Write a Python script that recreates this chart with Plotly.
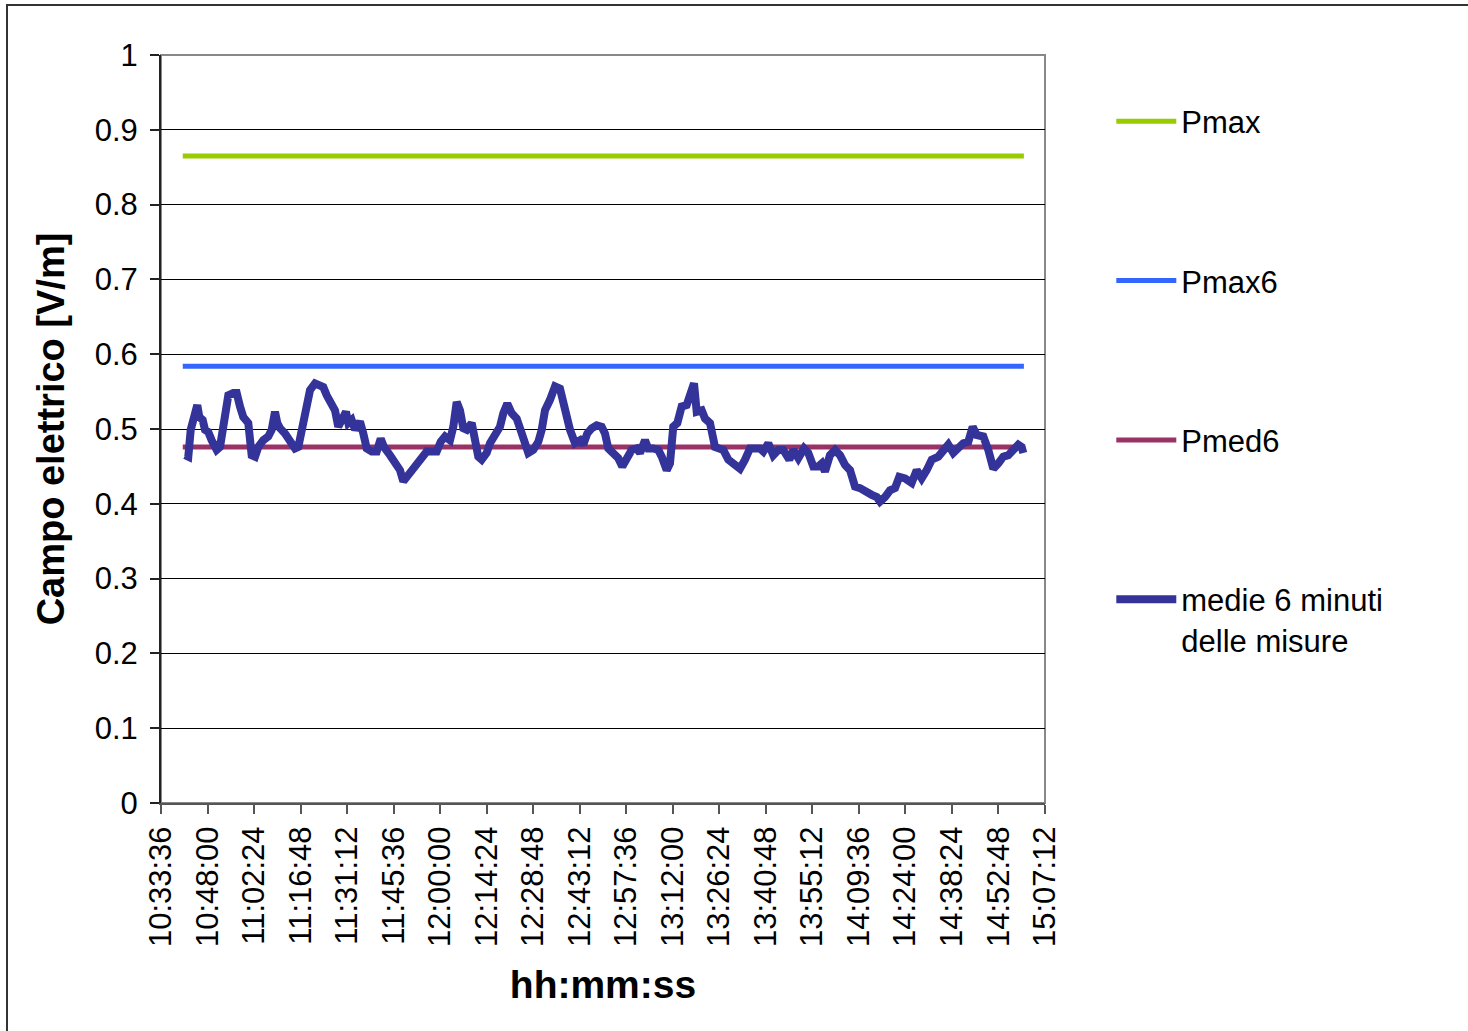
import plotly.graph_objects as go

# ---------------- data ----------------
times = [
    # segment 1
    "10:41:02", "10:42:03", "10:42:48", "10:43:49", "10:44:50", "10:45:27", "10:46:30", "10:47:13", "10:48:14", "10:49:17",
    "10:50:50", "10:51:52", "10:52:53", "10:53:43", "10:54:26", "10:55:59", "10:57:02", "10:58:03", "10:59:04", "11:00:37",
    "11:01:40", "11:02:42", "11:03:43", "11:05:16", "11:06:49", "11:07:52", "11:08:53", "11:09:36", "11:10:26", "11:11:59",
    "11:13:32", "11:15:04", "11:16:06", "11:17:09", "11:18:10", "11:19:43", "11:21:16",
    # segment 2
    "11:23:50", "11:24:53", "11:26:26", "11:27:27", "11:28:28", "11:29:32", "11:30:51", "11:31:34", "11:32:37", "11:33:39",
    "11:35:11", "11:36:13", "11:37:16", "11:38:49", "11:40:22", "11:41:36", "11:42:37", "11:44:29", "11:46:01", "11:47:34",
    "11:48:36", "11:49:39", "11:51:11", "11:52:44", "11:54:17", "11:55:50", "11:57:23", "11:58:56", "12:00:10", "12:01:30",
    "12:03:03", "12:04:04", "12:05:07",
    # segment 3
    "12:06:08", "12:07:10", "12:08:13", "12:09:46", "12:10:47", "12:11:48", "12:12:51", "12:14:24", "12:15:26", "12:16:58",
    "12:18:31", "12:19:33", "12:20:47", "12:22:09", "12:23:41", "12:24:43", "12:26:15", "12:27:17", "12:28:50", "12:30:23",
    "12:31:26", "12:32:27", "12:34:00", "12:35:33", "12:37:05", "12:38:07", "12:39:10", "12:40:11", "12:41:44", "12:43:17",
    "12:44:18", "12:45:32", "12:46:54", "12:48:27",
    # segment 4
    "12:50:00", "12:51:01", "12:52:02", "12:53:35", "12:55:08", "12:56:22", "12:57:44", "12:59:17", "13:00:50", "13:01:51",
    "13:03:24", "13:04:25", "13:05:58", "13:07:31", "13:08:34", "13:10:07", "13:11:08", "13:12:09", "13:13:24", "13:14:45",
    "13:16:18", "13:17:19", "13:18:34", "13:19:24", "13:20:57", "13:21:58", "13:23:31", "13:25:04", "13:26:37", "13:27:38",
    "13:29:11", "13:30:44", "13:32:17",
    # segment 5
    "13:32:48", "13:34:21", "13:35:54", "13:37:27", "13:38:59", "13:40:01", "13:41:34", "13:43:06", "13:44:39", "13:46:12",
    "13:48:04", "13:49:18", "13:50:51", "13:52:37", "13:53:56", "13:55:29", "13:57:02", "13:58:05", "13:59:06", "14:00:39",
    "14:02:12", "14:03:45", "14:05:18", "14:06:51", "14:08:24", "14:09:56", "14:11:29", "14:13:34", "14:15:07",
    # segment 6
    "14:16:08", "14:17:41", "14:19:14", "14:20:47", "14:22:06", "14:23:52", "14:25:56", "14:27:29", "14:29:02", "14:30:35",
    "14:32:08", "14:34:11", "14:35:43", "14:37:16", "14:38:49", "14:40:22", "14:41:55", "14:43:28", "14:44:49", "14:46:04",
    "14:48:06", "14:49:39", "14:51:12", "14:52:45", "14:54:18", "14:55:50", "14:57:23", "14:58:56", "14:59:59", "15:00:29",
]

medie = [
    0.465, 0.463, 0.499, 0.512, 0.532, 0.516, 0.512, 0.499, 0.496, 0.485,
    0.472, 0.476, 0.503, 0.525, 0.545, 0.548, 0.548, 0.530, 0.516, 0.508,
    0.465, 0.463, 0.476, 0.485, 0.490, 0.499, 0.523, 0.508, 0.501, 0.494,
    0.485, 0.474, 0.476, 0.499, 0.530, 0.552, 0.561,
    0.556, 0.545, 0.534, 0.525, 0.503, 0.512, 0.523, 0.508, 0.512, 0.499,
    0.510, 0.494, 0.474, 0.470, 0.470, 0.487, 0.476, 0.465, 0.456, 0.445,
    0.430, 0.436, 0.445, 0.454, 0.465, 0.470, 0.470, 0.470, 0.483, 0.490,
    0.485, 0.503, 0.536,
    0.525, 0.501, 0.499, 0.508, 0.490, 0.463, 0.459, 0.468, 0.481, 0.490,
    0.503, 0.521, 0.534, 0.521, 0.514, 0.501, 0.485, 0.468, 0.472, 0.483,
    0.499, 0.525, 0.539, 0.557, 0.554, 0.534, 0.512, 0.499, 0.481, 0.485,
    0.479, 0.494, 0.501, 0.505,
    0.503, 0.494, 0.474, 0.468, 0.461, 0.450, 0.463, 0.472, 0.474, 0.468,
    0.485, 0.474, 0.474, 0.472, 0.463, 0.445, 0.454, 0.503, 0.508, 0.530,
    0.532, 0.545, 0.561, 0.523, 0.525, 0.514, 0.508, 0.476, 0.474, 0.472,
    0.459, 0.454, 0.452,
    0.447, 0.459, 0.474, 0.474, 0.474, 0.470, 0.481, 0.465, 0.472, 0.472,
    0.459, 0.472, 0.461, 0.474, 0.468, 0.450, 0.450, 0.454, 0.443, 0.465,
    0.472, 0.465, 0.452, 0.445, 0.423, 0.421, 0.416, 0.412, 0.409,
    0.403, 0.409, 0.418, 0.421, 0.436, 0.434, 0.428, 0.445, 0.434, 0.445,
    0.459, 0.463, 0.470, 0.479, 0.468, 0.476, 0.481, 0.483, 0.503, 0.492,
    0.490, 0.472, 0.447, 0.454, 0.463, 0.465, 0.474, 0.479, 0.476, 0.468,
]

ref_times = ["10:40:20", "15:00:40"]
pmax = 0.865
pmax6 = 0.584
pmed6 = 0.476

tick_labels = [
    "10:33:36", "10:48:00", "11:02:24", "11:16:48", "11:31:12", "11:45:36", "12:00:00",
    "12:14:24", "12:28:48", "12:43:12", "12:57:36", "13:12:00", "13:26:24", "13:40:48",
    "13:55:12", "14:09:36", "14:24:00", "14:38:24", "14:52:48", "15:07:12",
]

DAY = "2000-01-01 "


def d(t):
    return DAY + t


FONT = "Liberation Sans, Arial, sans-serif"

fig = go.Figure()

ref_series = [
    ("Pmax", pmax, "#99CC00", 1),
    ("Pmax6", pmax6, "#3366FF", 2),
    ("Pmed6", pmed6, "#993366", 3),
]
for name, val, col, rank in ref_series:
    fig.add_trace(go.Scatter(
        x=[d(t) for t in ref_times], y=[val, val], mode="lines", name=name,
        line=dict(color=col, width=5), legendrank=rank, legendgroup=name,
    ))

fig.add_trace(go.Scatter(
    x=[d(t) for t in times], y=medie, mode="lines",
    name="medie 6 minuti<br>delle misure",
    line=dict(color="#333399", width=8), legendrank=4, legendgroup="medie",
))

# plot-area border (top/right grey) and outer chart frame
fig.add_shape(type="rect", xref="paper", yref="paper", x0=0, x1=1, y0=0, y1=1,
              line=dict(color="#888888", width=2), layer="below")
fig.add_shape(type="rect", xref="paper", yref="paper",
              x0=-0.1742, x1=1.6, y0=-0.5, y1=1.0668,
              line=dict(color="#333333", width=2))

fig.update_layout(
    width=1468, height=1031,
    margin=dict(l=161, r=423, t=55, b=228, pad=0),
    paper_bgcolor="white", plot_bgcolor="white",
    font=dict(family=FONT, color="black", size=31),
    showlegend=True,
    legend=dict(
        x=1.075, xanchor="left", y=0.947, yanchor="top",
        font=dict(size=31, family=FONT, color="black"),
        tracegroupgap=116, valign="top", itemwidth=60,
        bgcolor="rgba(0,0,0,0)",
    ),
    xaxis=dict(
        type="date",
        range=[d("10:33:36"), d("15:07:12")],
        tickmode="array",
        tickvals=[d(t) for t in tick_labels],
        ticktext=tick_labels,
        tickangle=-90,
        ticks="outside", ticklen=9, tickwidth=1.5, tickcolor="#555555",
        showline=True, linecolor="#555555", linewidth=2,
        showgrid=False, zeroline=False,
        tickfont=dict(size=31, family=FONT, color="black"),
        title=dict(text="<b>hh:mm:ss</b>", font=dict(size=39, family=FONT, color="black"), standoff=25),
    ),
    yaxis=dict(
        range=[0, 1], dtick=0.1, tick0=0,
        ticks="outside", ticklen=9, tickwidth=1.5, tickcolor="#222222",
        showline=True, linecolor="#222222", linewidth=2,
        showgrid=True, gridcolor="black", gridwidth=1,
        zeroline=False, ticklabelstandoff=6,
        tickfont=dict(size=31, family=FONT, color="black"),
        title=dict(text="<b>Campo elettrico [V/m]</b>", font=dict(size=38, family=FONT, color="black"), standoff=18),
    ),
)

fig.write_html(
    "out.html",
    config={"displayModeBar": False},
    post_script="document.body.style.margin='0';document.body.style.overflow='hidden';",
)
